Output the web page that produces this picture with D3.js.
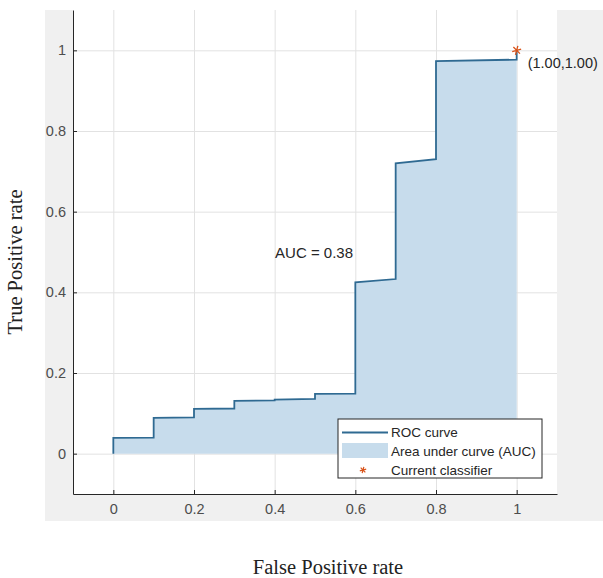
<!DOCTYPE html>
<html>
<head>
<meta charset="utf-8">
<script src="https://cdn.jsdelivr.net/npm/d3@7"></script>
<style>
  body { margin: 0; background: #fff; }
</style>
</head>
<body>
<div class="chart"></div>
<script>
// ROC curve vertices (false positive rate, true positive rate)
const fpr = [0, 0, 0.1, 0.1, 0.2, 0.2, 0.3, 0.3, 0.4, 0.4, 0.5, 0.5, 0.6, 0.6, 0.7, 0.7, 0.8, 0.8, 1.0, 1.0];
const tpr = [0, 0.039, 0.040, 0.089, 0.090, 0.111, 0.112, 0.131, 0.132, 0.134, 0.136, 0.148, 0.149, 0.425, 0.433, 0.720, 0.730, 0.973, 0.977, 1.0];
const ticks = [0, 0.2, 0.4, 0.6, 0.8, 1];
const tickLabels = ['0', '0.2', '0.4', '0.6', '0.8', '1'];
const classifier = [1.0, 1.0];
const aucLabel = 'AUC = 0.38';
const legendLabels = ['ROC curve', 'Area under curve (AUC)', 'Current classifier'];

const width = 603;
const height = 578;
const plot = {left: 73, right: 557, top: 10, bottom: 494};
const sans = 'Liberation Sans, Arial, sans-serif';
const serif = 'Liberation Serif, Times New Roman, serif';

const svg = d3.select('.chart').append('svg')
    .attr('width', width)
    .attr('height', height);

// figure background
svg.append('rect')
    .attr('x', 45).attr('y', 10)
    .attr('width', width - 45).attr('height', 511)
    .attr('fill', '#f0f0f0');
svg.append('rect')
    .attr('x', plot.left).attr('y', plot.top)
    .attr('width', plot.right - plot.left).attr('height', plot.bottom - plot.top)
    .attr('fill', '#fff');

const xScale = d3.scaleLinear().domain([-0.1, 1.1]).range([plot.left, plot.right]);
const yScale = d3.scaleLinear().domain([-0.1, 1.1]).range([plot.bottom, plot.top]);
const fmt = d => tickLabels[ticks.indexOf(d)];

// grid
svg.append('g')
    .attr('transform', `translate(0, ${plot.bottom})`)
    .call(d3.axisBottom(xScale).tickValues(ticks).tickSize(-(plot.bottom - plot.top)).tickFormat(''))
    .call(g => g.select('.domain').remove())
    .call(g => g.selectAll('.tick line').attr('stroke', '#e2e2e2'));
svg.append('g')
    .attr('transform', `translate(${plot.left}, 0)`)
    .call(d3.axisLeft(yScale).tickValues(ticks).tickSize(-(plot.right - plot.left)).tickFormat(''))
    .call(g => g.select('.domain').remove())
    .call(g => g.selectAll('.tick line').attr('stroke', '#e2e2e2'));

const points = fpr.map((f, i) => [f, tpr[i]]);

// area under curve
svg.append('path')
    .datum(points)
    .attr('d', d3.area().x(d => xScale(d[0])).y0(yScale(0)).y1(d => yScale(d[1])))
    .attr('fill', '#c7dcec');

// ROC curve
svg.append('path')
    .datum(points)
    .attr('d', d3.line().x(d => xScale(d[0])).y(d => yScale(d[1])))
    .attr('fill', 'none')
    .attr('stroke', '#2f6a92')
    .attr('stroke-width', 1.8);

// current classifier
svg.append('path')
    .attr('transform', `translate(${xScale(classifier[0])}, ${yScale(classifier[1])}) rotate(15)`)
    .attr('d', d3.symbol(d3.symbolAsterisk, 60)())
    .attr('fill', 'none')
    .attr('stroke', '#d95319')
    .attr('stroke-width', 1.3);

svg.append('text')
    .attr('x', xScale(classifier[0]) + 11)
    .attr('y', yScale(classifier[1]) + 18)
    .text(`(${classifier[0].toFixed(2)},${classifier[1].toFixed(2)})`)
    .style('font-family', sans)
    .style('font-size', '14.5px')
    .attr('fill', '#262626');

svg.append('text')
    .attr('x', xScale(0.401))
    .attr('y', yScale(0.485))
    .text(aucLabel)
    .style('font-family', sans)
    .style('font-size', '15px')
    .attr('fill', '#262626');

// axes
const styleAxis = g => {
    g.select('.domain').attr('stroke', '#262626');
    g.selectAll('.tick line').attr('stroke', '#262626');
    g.selectAll('.tick text')
        .attr('fill', '#4d4d4d')
        .style('font-family', sans)
        .style('font-size', '14.5px');
};
svg.append('g')
    .attr('transform', `translate(0, ${plot.bottom})`)
    .call(d3.axisBottom(xScale).tickValues(ticks).tickFormat(fmt).tickSizeInner(-4).tickSizeOuter(0).tickPadding(10))
    .call(styleAxis);
svg.append('g')
    .attr('transform', `translate(${plot.left}, 0)`)
    .call(d3.axisLeft(yScale).tickValues(ticks).tickFormat(fmt).tickSizeInner(-4).tickSizeOuter(0).tickPadding(7))
    .call(styleAxis);

// axis titles
svg.append('text')
    .attr('x', 328)
    .attr('y', 574)
    .attr('text-anchor', 'middle')
    .text('False Positive rate')
    .style('font-family', serif)
    .style('font-size', '20.5px')
    .attr('fill', '#222');
svg.append('text')
    .attr('transform', 'translate(22, 262) rotate(-90)')
    .attr('text-anchor', 'middle')
    .text('True Positive rate')
    .style('font-family', serif)
    .style('font-size', '20.5px')
    .attr('fill', '#222');

// legend
const legend = svg.append('g').attr('transform', 'translate(338, 419)');
legend.append('rect')
    .attr('width', 204).attr('height', 59)
    .attr('fill', '#fff')
    .attr('stroke', '#262626')
    .attr('stroke-width', 1);
legend.append('line')
    .attr('x1', 4).attr('x2', 50).attr('y1', 13.5).attr('y2', 13.5)
    .attr('stroke', '#2f6a92').attr('stroke-width', 2);
legend.append('rect')
    .attr('x', 4).attr('y', 24).attr('width', 46).attr('height', 15)
    .attr('fill', '#c7dcec');
legend.append('path')
    .attr('transform', 'translate(25, 51) rotate(15)')
    .attr('d', d3.symbol(d3.symbolAsterisk, 30)())
    .attr('fill', 'none')
    .attr('stroke', '#d95319')
    .attr('stroke-width', 1.2);
legend.selectAll('text.item')
    .data(legendLabels)
    .join('text')
        .attr('class', 'item')
        .attr('x', 53)
        .attr('y', (_, i) => 13.7 + i * 18.7)
        .attr('dy', '0.35em')
        .text(d => d)
        .style('font-family', sans)
        .style('font-size', '13.5px')
        .attr('fill', '#262626');
</script>
</body>
</html>
